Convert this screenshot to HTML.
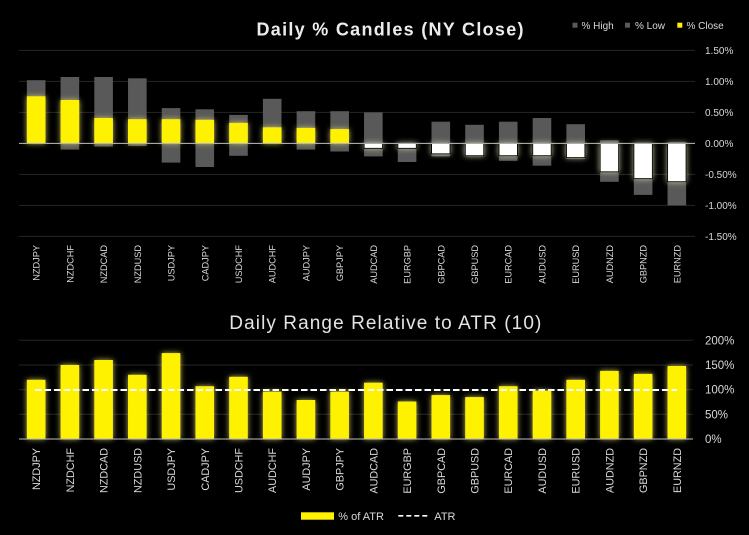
<!DOCTYPE html>
<html><head><meta charset="utf-8"><style>
html,body{margin:0;padding:0;background:#000;}
svg{display:block;}
text{font-family:"Liberation Sans",Arial,sans-serif;}
</style></head><body>
<svg width="749" height="535" viewBox="0 0 749 535" xmlns="http://www.w3.org/2000/svg">
<defs>
<filter id="gy" x="-80%" y="-80%" width="260%" height="260%"><feDropShadow dx="0" dy="0" stdDeviation="2.8" flood-color="#e0d870" flood-opacity="0.85"/></filter>
<filter id="gw" x="-80%" y="-80%" width="260%" height="260%"><feDropShadow dx="0" dy="0" stdDeviation="2.8" flood-color="#d8d4a8" flood-opacity="0.85"/></filter>
</defs>
<rect width="749" height="535" fill="#000"/>

<text x="390" y="35.5" text-anchor="middle" font-size="18" font-weight="bold" fill="#ececec" textLength="267" lengthAdjust="spacing">Daily % Candles (NY Close)</text>
<rect x="572.5" y="22.7" width="5" height="5" fill="#595959"/>
<text x="581.5" y="29" font-size="10" fill="#d9d9d9">% High</text>
<rect x="625" y="22.7" width="5" height="5" fill="#595959"/>
<text x="635" y="29" font-size="10" fill="#d9d9d9">% Low</text>
<rect x="677.3" y="22.7" width="5" height="5" fill="#fff200"/>
<text x="686.5" y="29" font-size="10" fill="#d9d9d9">% Close</text>

<g stroke="#262626" stroke-width="1">
<line x1="19" y1="50.4" x2="695" y2="50.4"/>
<line x1="19" y1="81.4" x2="695" y2="81.4"/>
<line x1="19" y1="112.4" x2="695" y2="112.4"/>
<line x1="19" y1="174.4" x2="695" y2="174.4"/>
<line x1="19" y1="205.4" x2="695" y2="205.4"/>
<line x1="19" y1="236.4" x2="695" y2="236.4"/>
</g>
<g font-size="10" fill="#d9d9d9">
<text x="705" y="54">1.50%</text>
<text x="705" y="85">1.00%</text>
<text x="705" y="116">0.50%</text>
<text x="705" y="147">0.00%</text>
<text x="705" y="178">-0.50%</text>
<text x="705" y="209">-1.00%</text>
<text x="705" y="240">-1.50%</text>
</g>

<g fill="#595959">
<rect x="26.86" y="80.2" width="18.6" height="63.2"/>
<rect x="60.58" y="77.0" width="18.6" height="72.6"/>
<rect x="94.30" y="77.0" width="18.6" height="69.5"/>
<rect x="128.02" y="78.3" width="18.6" height="67.6"/>
<rect x="161.74" y="108.1" width="18.6" height="54.5"/>
<rect x="195.46" y="109.3" width="18.6" height="57.7"/>
<rect x="229.18" y="114.9" width="18.6" height="40.9"/>
<rect x="262.90" y="98.8" width="18.6" height="44.6"/>
<rect x="296.62" y="111.2" width="18.6" height="38.4"/>
<rect x="330.34" y="111.2" width="18.6" height="40.3"/>
<rect x="364.06" y="112.4" width="18.6" height="44"/>
<rect x="397.78" y="143.4" width="18.6" height="18.6"/>
<rect x="431.50" y="121.7" width="18.6" height="34.7"/>
<rect x="465.22" y="124.8" width="18.6" height="31.6"/>
<rect x="498.94" y="121.7" width="18.6" height="39.1"/>
<rect x="532.66" y="118.0" width="18.6" height="47.7"/>
<rect x="566.38" y="124.2" width="18.6" height="34.7"/>
<rect x="600.10" y="140.3" width="18.6" height="41.5"/>
<rect x="633.82" y="143.4" width="18.6" height="51.5"/>
<rect x="667.54" y="142.2" width="18.6" height="63.2"/>
</g>

<g fill="#fff200" filter="url(#gy)">
<rect x="26.86" y="96.3" width="18.6" height="47.1"/>
<rect x="60.58" y="100.0" width="18.6" height="43.4"/>
<rect x="94.30" y="118.0" width="18.6" height="25.4"/>
<rect x="128.02" y="119.2" width="18.6" height="24.2"/>
<rect x="161.74" y="119.2" width="18.6" height="24.2"/>
<rect x="195.46" y="119.8" width="18.6" height="23.6"/>
<rect x="229.18" y="122.9" width="18.6" height="20.5"/>
<rect x="262.90" y="127.3" width="18.6" height="16.1"/>
<rect x="296.62" y="127.9" width="18.6" height="15.5"/>
<rect x="330.34" y="129.1" width="18.6" height="14.3"/>
</g>
<g fill="#ffffff" stroke="#000" stroke-width="1" filter="url(#gw)">
<rect x="364.06" y="143.4" width="18.6" height="5"/>
<rect x="397.78" y="143.4" width="18.6" height="5"/>
<rect x="431.50" y="143.4" width="18.6" height="10.5"/>
<rect x="465.22" y="143.4" width="18.6" height="12.4"/>
<rect x="498.94" y="143.4" width="18.6" height="12.4"/>
<rect x="532.66" y="143.4" width="18.6" height="12.4"/>
<rect x="566.38" y="143.4" width="18.6" height="14.3"/>
<rect x="600.10" y="143.4" width="18.6" height="28.5"/>
<rect x="633.82" y="143.4" width="18.6" height="35.3"/>
<rect x="667.54" y="143.4" width="18.6" height="38.4"/>
</g>
<line x1="19" y1="143.4" x2="695" y2="143.4" stroke="#bfbfbf" stroke-width="1"/>

<g font-size="9.2" fill="#d9d9d9" text-anchor="end">
<text transform="translate(39.66,245) rotate(-90)">NZDJPY</text>
<text transform="translate(73.38,245) rotate(-90)">NZDCHF</text>
<text transform="translate(107.10,245) rotate(-90)">NZDCAD</text>
<text transform="translate(140.82,245) rotate(-90)">NZDUSD</text>
<text transform="translate(174.54,245) rotate(-90)">USDJPY</text>
<text transform="translate(208.26,245) rotate(-90)">CADJPY</text>
<text transform="translate(241.98,245) rotate(-90)">USDCHF</text>
<text transform="translate(275.70,245) rotate(-90)">AUDCHF</text>
<text transform="translate(309.42,245) rotate(-90)">AUDJPY</text>
<text transform="translate(343.14,245) rotate(-90)">GBPJPY</text>
<text transform="translate(376.86,245) rotate(-90)">AUDCAD</text>
<text transform="translate(410.58,245) rotate(-90)">EURGBP</text>
<text transform="translate(444.30,245) rotate(-90)">GBPCAD</text>
<text transform="translate(478.02,245) rotate(-90)">GBPUSD</text>
<text transform="translate(511.74,245) rotate(-90)">EURCAD</text>
<text transform="translate(545.46,245) rotate(-90)">AUDUSD</text>
<text transform="translate(579.18,245) rotate(-90)">EURUSD</text>
<text transform="translate(612.90,245) rotate(-90)">AUDNZD</text>
<text transform="translate(646.62,245) rotate(-90)">GBPNZD</text>
<text transform="translate(680.34,245) rotate(-90)">EURNZD</text>
</g>

<text x="385.3" y="329" text-anchor="middle" font-size="19" fill="#e4e4e4" textLength="312" lengthAdjust="spacing">Daily Range Relative to ATR (10)</text>

<g stroke="#262626" stroke-width="1">
<line x1="19" y1="340.3" x2="693" y2="340.3"/>
<line x1="19" y1="365" x2="693" y2="365"/>
<line x1="19" y1="389.7" x2="693" y2="389.7"/>
<line x1="19" y1="414.3" x2="693" y2="414.3"/>
</g>
<g font-size="11.5" fill="#d9d9d9">
<text x="705" y="344.3">200%</text>
<text x="705" y="369">150%</text>
<text x="705" y="393.7">100%</text>
<text x="705" y="418.3">50%</text>
<text x="705" y="443">0%</text>
</g>

<g fill="#fff200" filter="url(#gy)">
<rect x="26.86" y="379.8" width="18.6" height="59.2"/>
<rect x="60.58" y="365.0" width="18.6" height="74.0"/>
<rect x="94.30" y="360.0" width="18.6" height="79.0"/>
<rect x="128.02" y="374.8" width="18.6" height="64.2"/>
<rect x="161.74" y="353.1" width="18.6" height="85.9"/>
<rect x="195.46" y="386.2" width="18.6" height="52.8"/>
<rect x="229.18" y="376.8" width="18.6" height="62.2"/>
<rect x="262.90" y="391.6" width="18.6" height="47.4"/>
<rect x="296.62" y="400.0" width="18.6" height="39.0"/>
<rect x="330.34" y="391.6" width="18.6" height="47.4"/>
<rect x="364.06" y="382.7" width="18.6" height="56.3"/>
<rect x="397.78" y="401.5" width="18.6" height="37.5"/>
<rect x="431.50" y="395.1" width="18.6" height="43.9"/>
<rect x="465.22" y="397.1" width="18.6" height="41.9"/>
<rect x="498.94" y="386.2" width="18.6" height="52.8"/>
<rect x="532.66" y="390.6" width="18.6" height="48.4"/>
<rect x="566.38" y="379.8" width="18.6" height="59.2"/>
<rect x="600.10" y="370.9" width="18.6" height="68.1"/>
<rect x="633.82" y="373.9" width="18.6" height="65.1"/>
<rect x="667.54" y="366.0" width="18.6" height="73.0"/>
</g>
<line x1="19" y1="439" x2="693" y2="439" stroke="#bfbfbf" stroke-width="1"/>
<line x1="35" y1="390" x2="677" y2="390" stroke="#ffffff" stroke-width="2" stroke-dasharray="6.5 3"/>

<g font-size="10.8" fill="#d9d9d9" text-anchor="end">
<text transform="translate(40.16,448) rotate(-90)">NZDJPY</text>
<text transform="translate(73.88,448) rotate(-90)">NZDCHF</text>
<text transform="translate(107.60,448) rotate(-90)">NZDCAD</text>
<text transform="translate(141.32,448) rotate(-90)">NZDUSD</text>
<text transform="translate(175.04,448) rotate(-90)">USDJPY</text>
<text transform="translate(208.76,448) rotate(-90)">CADJPY</text>
<text transform="translate(242.48,448) rotate(-90)">USDCHF</text>
<text transform="translate(276.20,448) rotate(-90)">AUDCHF</text>
<text transform="translate(309.92,448) rotate(-90)">AUDJPY</text>
<text transform="translate(343.64,448) rotate(-90)">GBPJPY</text>
<text transform="translate(377.36,448) rotate(-90)">AUDCAD</text>
<text transform="translate(411.08,448) rotate(-90)">EURGBP</text>
<text transform="translate(444.80,448) rotate(-90)">GBPCAD</text>
<text transform="translate(478.52,448) rotate(-90)">GBPUSD</text>
<text transform="translate(512.24,448) rotate(-90)">EURCAD</text>
<text transform="translate(545.96,448) rotate(-90)">AUDUSD</text>
<text transform="translate(579.68,448) rotate(-90)">EURUSD</text>
<text transform="translate(613.40,448) rotate(-90)">AUDNZD</text>
<text transform="translate(647.12,448) rotate(-90)">GBPNZD</text>
<text transform="translate(680.84,448) rotate(-90)">EURNZD</text>
</g>

<rect x="301" y="512.3" width="33" height="7.4" fill="#fff200"/>
<text x="338.3" y="520" font-size="11" fill="#d9d9d9">% of ATR</text>
<line x1="398.3" y1="515.8" x2="427.5" y2="515.8" stroke="#ffffff" stroke-width="1.6" stroke-dasharray="5 3"/>
<text x="434.3" y="520" font-size="11" fill="#d9d9d9">ATR</text>
</svg>
</body></html>
